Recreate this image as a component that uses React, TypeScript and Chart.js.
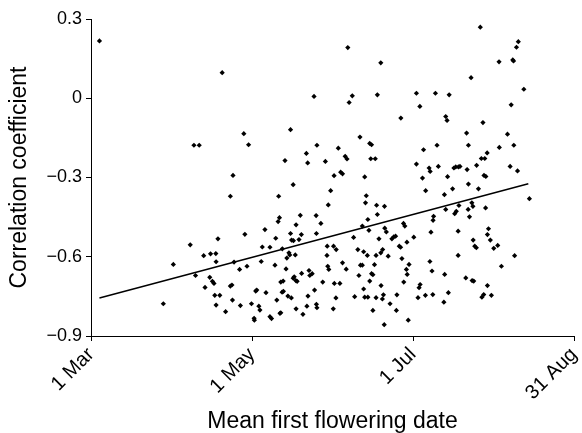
import React, { useEffect, useRef } from 'react';
import { Chart, registerables } from 'chart.js';

Chart.register(...registerables);

// Day number counted from 1 March, correlation coefficient
const floweringPoints: [number, number][] = [
  [3.2, 0.217], [27.4, -0.778], [31.2, -0.629], [37.6, -0.555], [39.0, -0.178], [41.0, -0.178],
  [39.6, -0.671], [42.7, -0.596], [43.2, -0.716], [45.3, -0.589], [45.0, -0.678], [46.0, -0.693],
  [46.6, -0.701], [46.9, -0.746], [48.8, -0.746], [47.3, -0.588], [47.4, -0.619], [48.1, -0.532],
  [47.4, -0.783], [49.7, 0.097], [51.0, -0.808], [52.8, -0.371], [53.8, -0.292], [52.8, -0.711],
  [53.4, -0.707], [53.6, -0.764], [54.2, -0.62], [56.6, -0.785], [56.3, -0.648], [57.9, -0.134],
  [59.7, -0.176], [58.3, -0.515], [59.1, -0.636], [60.8, -0.778], [61.8, -0.833], [61.9, -0.84],
  [62.4, -0.73], [62.8, -0.726], [63.6, -0.787], [64.0, -0.802], [64.5, -0.618], [64.9, -0.563],
  [65.9, -0.497], [66.3, -0.736], [67.8, -0.564], [67.8, -0.827], [68.4, -0.834], [69.7, -0.632],
  [70.0, -0.53], [70.4, -0.764], [71.1, -0.371], [70.9, -0.467], [71.4, -0.452], [71.6, -0.814],
  [71.9, -0.812], [71.9, -0.696], [72.4, -0.734], [72.9, -0.731], [72.5, -0.57], [72.8, -0.692],
  [73.5, -0.236], [73.9, -0.646], [74.2, -0.605], [74.6, -0.749], [75.3, -0.593], [75.0, -0.585],
  [75.6, -0.119], [75.6, -0.512], [75.9, -0.756], [76.0, -0.537], [76.6, -0.327], [76.6, -0.681],
  [77.0, -0.676], [76.7, -0.539], [77.4, -0.593], [77.6, -0.69], [78.1, -0.693], [77.7, -0.797],
  [77.7, -0.479], [78.8, -0.535], [79.3, -0.443], [79.7, -0.516], [80.3, -0.818], [79.8, -0.663],
  [81.6, -0.209], [82.1, -0.245], [81.8, -0.787], [82.2, -0.749], [82.6, -0.652], [82.9, -0.671],
  [83.8, -0.664], [84.5, 0.007], [84.7, -0.726], [85.3, -0.444], [85.4, -0.78], [85.6, -0.793],
  [85.6, -0.178], [85.4, -0.512], [87.1, -0.474], [87.8, -0.696], [88.8, -0.239], [89.5, -0.56],
  [89.4, -0.595], [89.7, -0.636], [89.9, -0.404], [90.8, -0.35], [90.1, -0.648], [91.8, -0.797],
  [92.1, -0.293], [91.9, -0.56], [92.2, -0.701], [92.9, -0.573], [92.8, -0.756], [93.7, -0.189],
  [94.3, -0.701], [94.6, -0.28], [95.3, -0.286], [95.3, -0.623], [96.3, -0.22], [97.0, -0.23],
  [96.7, -0.647], [97.3, 0.192], [97.8, -0.016], [99.0, 0.009], [99.5, -0.527], [99.9, -0.751],
  [101.1, -0.573], [101.5, -0.671], [101.9, -0.147], [102.1, -0.632], [102.8, -0.632], [102.8, -0.484],
  [103.3, -0.722], [103.7, -0.298], [103.3, -0.581], [104.0, -0.396], [104.3, -0.369], [104.7, -0.595],
  [104.9, -0.459], [103.7, -0.753], [104.9, -0.753], [105.3, -0.5], [105.6, -0.171], [106.3, -0.176],
  [105.6, -0.692], [106.0, -0.229], [107.7, -0.229], [106.3, -0.664], [106.8, -0.803], [107.4, -0.63],
  [106.8, -0.668], [108.0, -0.595], [108.0, -0.755], [108.2, -0.405], [108.5, -0.44], [108.5, 0.013],
  [109.1, -0.532], [109.8, 0.134], [109.8, -0.585], [110.5, -0.573], [109.9, -0.709], [110.4, -0.76],
  [110.8, -0.744], [111.2, -0.409], [111.1, -0.857], [111.3, -0.492], [111.9, -0.506], [112.6, -0.598],
  [113.3, -0.778], [114.0, -0.532], [114.7, -0.525], [115.4, -0.522], [115.7, -0.803], [115.9, -0.744],
  [116.8, -0.56], [117.3, -0.564], [117.4, -0.075], [117.8, -0.607], [118.4, -0.474], [118.9, -0.484],
  [118.5, -0.696], [119.7, -0.545], [119.5, -0.648], [119.8, -0.667], [120.2, -0.84], [120.5, -0.629],
  [122.3, -0.526], [123.3, 0.019], [123.3, -0.249], [123.9, -0.755], [124.3, -0.717], [124.7, -0.705],
  [124.6, -0.031], [125.6, -0.302], [126.0, -0.195], [126.8, -0.35], [126.7, -0.746], [128.1, -0.264],
  [128.5, -0.277], [128.4, -0.618], [128.8, -0.507], [129.2, -0.654], [129.6, -0.462], [129.8, -0.447],
  [129.5, -0.743], [130.5, 0.019], [131.1, -0.178], [131.6, -0.258], [133.7, -0.772], [133.9, -0.365],
  [134.0, -0.667], [134.4, -0.069], [134.9, -0.084], [134.4, -0.421], [135.1, -0.297], [135.4, -0.736],
  [135.7, 0.013], [137.0, -0.343], [137.5, -0.264], [138.2, -0.26], [137.8, -0.437], [138.4, -0.428],
  [139.1, -0.503], [139.2, -0.26], [139.4, -0.406], [139.1, -0.595], [139.8, -0.258], [142.3, -0.132],
  [142.5, -0.27], [142.0, -0.68], [143.0, -0.178], [143.0, -0.325], [142.9, -0.421], [143.4, -0.449],
  [144.0, 0.078], [144.3, -0.396], [144.7, -0.409], [144.4, -0.69], [145.0, -0.692], [144.8, -0.537],
  [145.4, -0.56], [146.0, -0.566], [146.1, -0.254], [146.8, -0.343], [147.5, 0.269], [147.9, -0.228],
  [148.5, -0.092], [148.1, -0.753], [148.8, -0.743], [148.9, -0.292], [149.6, -0.296], [149.2, -0.228],
  [149.5, -0.415], [150.1, -0.207], [150.2, -0.516], [150.2, -0.709], [150.6, -0.494], [151.3, -0.537],
  [151.7, -0.746], [152.6, -0.568], [154.1, -0.557], [154.6, 0.138], [154.7, -0.186], [155.5, -0.636],
  [157.8, -0.136], [158.8, -0.258], [159.2, -0.025], [159.8, 0.145], [160.1, 0.141], [160.2, -0.178],
  [160.5, -0.596], [161.2, 0.193], [161.6, -0.275], [161.9, 0.214], [164.0, 0.034], [166.1, -0.38],
];

// Fitted regression line end points
const trendDays = [3.2, 165.7];
const trendValues = [-0.756, -0.324];

const xTickDays = [0, 61, 122, 183];
const xTickLabels = ['1 Mar', '1 May', '1 Jul', '31 Aug'];
const yTickValues = [-0.9, -0.6, -0.3, 0, 0.3];
const yTickLabels = ['\u22120.9', '\u22120.6', '\u22120.3', '0', '0.3'];

const FONT = '"Liberation Sans", Arial, Helvetica, sans-serif';

export default function App() {
  const ref = useRef<HTMLCanvasElement>(null);

  useEffect(() => {
    document.body.style.margin = '0';
    const canvas = ref.current;
    if (!canvas) return;
    const chart = new Chart(canvas, {
      type: 'scatter',
      data: {
        datasets: [
          {
            type: 'line',
            data: trendDays.map((x, i) => ({ x, y: trendValues[i] })),
            borderColor: '#000',
            borderWidth: 1.5,
            pointRadius: 0,
            fill: false,
          } as any,
          {
            type: 'scatter',
            data: floweringPoints.map(([x, y]) => ({ x, y })),
            pointStyle: 'rectRot',
            pointRadius: 2.6,
            backgroundColor: '#000',
            borderColor: '#000',
            borderWidth: 0,
          } as any,
        ],
      },
      options: {
        responsive: false,
        animation: false,
        layout: { padding: { left: 0, right: 8, top: 19, bottom: 0 } },
        plugins: { legend: { display: false }, tooltip: { enabled: false } },
        scales: {
          x: {
            type: 'linear',
            min: 0,
            max: 183,
            afterBuildTicks: (s: any) => {
              s.ticks = xTickDays.map((v) => ({ value: v }));
            },
            afterFit: (s: any) => {
              s.height = 97;
              s.paddingLeft = 0;
              s.paddingRight = 0;
            },
            grid: { drawOnChartArea: false, drawTicks: true, tickLength: 5, color: '#000' },
            border: { display: true, color: '#000', width: 1 },
            ticks: {
              autoSkip: false,
              minRotation: 45,
              maxRotation: 45,
              padding: 2,
              color: '#000',
              font: { family: FONT, size: 20 },
              callback: (_v: any, i: number) => xTickLabels[i],
            },
            title: {
              display: true,
              text: 'Mean first flowering date',
              color: '#000',
              font: { family: FONT, size: 23 },
              padding: { top: 0, bottom: -2 },
            },
          },
          y: {
            type: 'linear',
            min: -0.9,
            max: 0.3,
            afterBuildTicks: (s: any) => {
              s.ticks = yTickValues.map((v) => ({ value: v }));
            },
            afterFit: (s: any) => {
              s.width = 91;
              s.paddingTop = 0;
              s.paddingBottom = 0;
            },
            grid: { drawOnChartArea: false, drawTicks: true, tickLength: 5, color: '#000' },
            border: { display: true, color: '#000', width: 1 },
            ticks: {
              padding: 4,
              color: '#000',
              font: { family: FONT, size: 18 },
              callback: (_v: any, i: number) => yTickLabels[i],
            },
            title: {
              display: true,
              text: 'Correlation coefficient',
              color: '#000',
              font: { family: FONT, size: 23 },
              padding: { top: 6, bottom: 0 },
            },
          },
        },
      },
    });
    return () => chart.destroy();
  }, []);

  return <canvas ref={ref} width={582} height={433} style={{ display: 'block' }} />;
}
